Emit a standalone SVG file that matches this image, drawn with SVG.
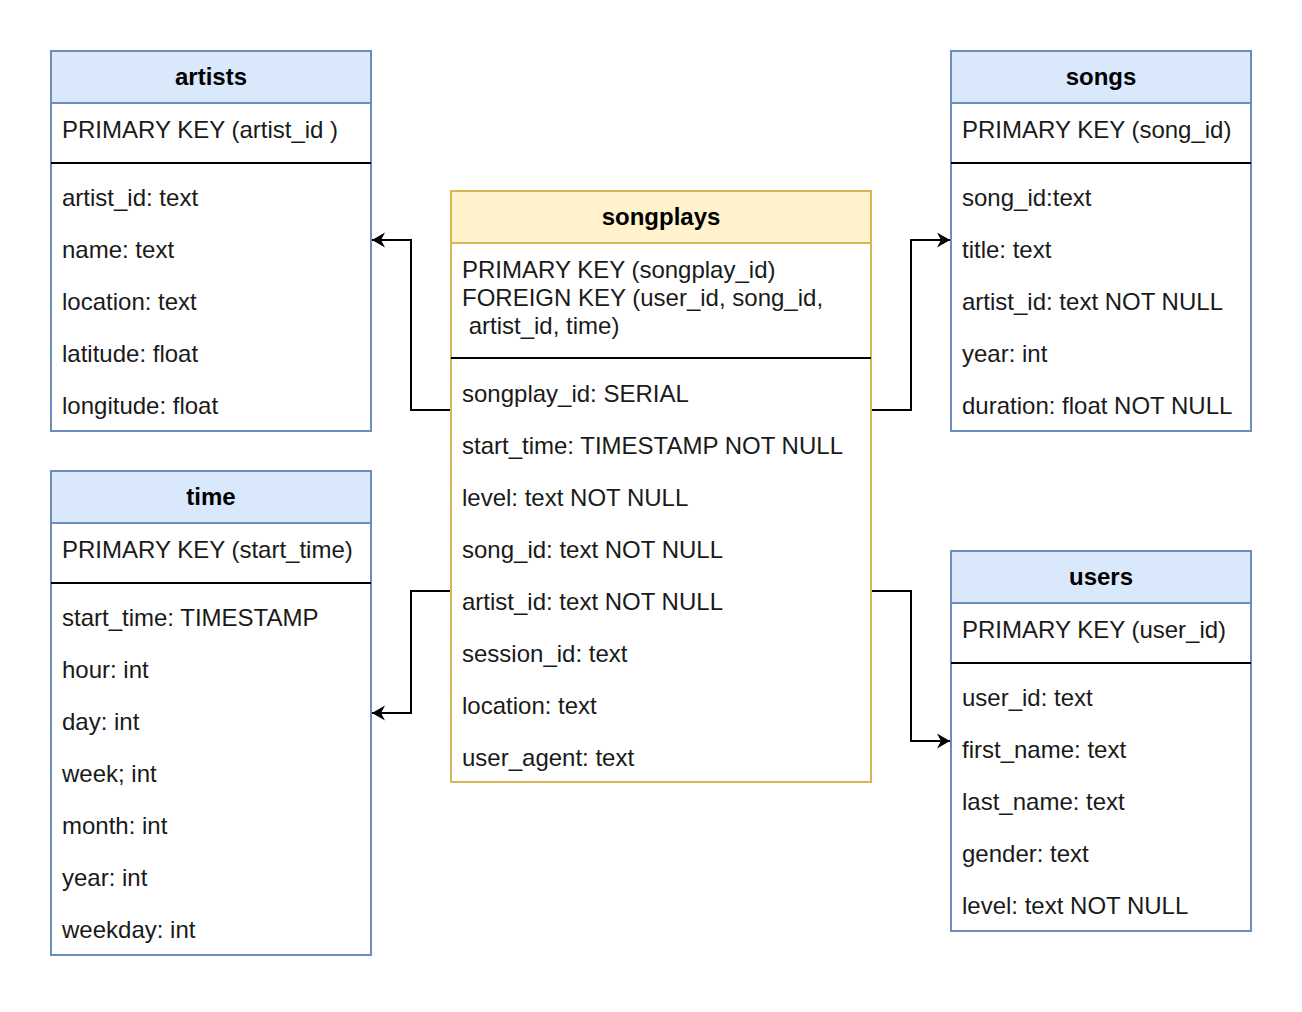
<svg xmlns="http://www.w3.org/2000/svg" width="1302" height="1012" viewBox="0 0 1302 1012">
<style>
.box{fill:#ffffff;stroke:#6c8ebf;stroke-width:2}
.hb{fill:#dae8fc;stroke:#6c8ebf;stroke-width:2}
.boxy{fill:#ffffff;stroke:#d6b656;stroke-width:2}
.hy{fill:#fff2cc;stroke:#d6b656;stroke-width:2}
.div{stroke:#000000;stroke-width:2}
.t{font-family:"Liberation Sans",Arial,sans-serif;font-size:24px;fill:#1a1a1a}
.h{font-family:"Liberation Sans",Arial,sans-serif;font-size:24px;font-weight:bold;fill:#000000;text-anchor:middle}
.c{fill:none;stroke:#000000;stroke-width:2}
</style>
<defs>
<marker id="arr" markerUnits="userSpaceOnUse" markerWidth="16" markerHeight="16" refX="13" refY="7.5" orient="auto">
<path d="M0,0 L13,7.5 L0,15 L4,7.5 Z" fill="#000000"/>
</marker>
</defs>
<rect width="1302" height="1012" fill="#ffffff"/>
<g id="connectors">
<path class="c" d="M451,410 H411 V240 H372" marker-end="url(#arr)"/>
<path class="c" d="M871,410 H911 V240 H950" marker-end="url(#arr)"/>
<path class="c" d="M451,591 H411 V713 H372" marker-end="url(#arr)"/>
<path class="c" d="M871,591 H911 V741 H950" marker-end="url(#arr)"/>
</g>
<g id="artists">
<rect class="box" x="51" y="51" width="320" height="380"/>
<rect class="hb" x="51" y="51" width="320" height="52"/>
<text class="h" x="211" y="85">artists</text>
<text class="t" x="62" y="138">PRIMARY KEY (artist_id )</text>
<line class="div" x1="51" y1="163" x2="371" y2="163"/>
<text class="t" x="62" y="206">artist_id: text</text>
<text class="t" x="62" y="258">name: text</text>
<text class="t" x="62" y="310">location: text</text>
<text class="t" x="62" y="362">latitude: float</text>
<text class="t" x="62" y="414">longitude: float</text>
</g>
<g id="songs">
<rect class="box" x="951" y="51" width="300" height="380"/>
<rect class="hb" x="951" y="51" width="300" height="52"/>
<text class="h" x="1101" y="85">songs</text>
<text class="t" x="962" y="138">PRIMARY KEY (song_id)</text>
<line class="div" x1="951" y1="163" x2="1251" y2="163"/>
<text class="t" x="962" y="206">song_id:text</text>
<text class="t" x="962" y="258">title: text</text>
<text class="t" x="962" y="310">artist_id: text NOT NULL</text>
<text class="t" x="962" y="362">year: int</text>
<text class="t" x="962" y="414">duration: float NOT NULL</text>
</g>
<g id="songplays">
<rect class="boxy" x="451" y="191" width="420" height="591"/>
<rect class="hy" x="451" y="191" width="420" height="52"/>
<text class="h" x="661" y="225">songplays</text>
<text class="t" x="462" y="278">PRIMARY KEY (songplay_id)</text>
<text class="t" x="462" y="306">FOREIGN KEY (user_id, song_id,</text>
<text class="t" x="462" y="334" xml:space="preserve"> artist_id, time)</text>
<line class="div" x1="451" y1="358" x2="871" y2="358"/>
<text class="t" x="462" y="402">songplay_id: SERIAL</text>
<text class="t" x="462" y="454">start_time: TIMESTAMP NOT NULL</text>
<text class="t" x="462" y="506">level: text NOT NULL</text>
<text class="t" x="462" y="558">song_id: text NOT NULL</text>
<text class="t" x="462" y="610">artist_id: text NOT NULL</text>
<text class="t" x="462" y="662">session_id: text</text>
<text class="t" x="462" y="714">location: text</text>
<text class="t" x="462" y="766">user_agent: text</text>
</g>
<g id="time">
<rect class="box" x="51" y="471" width="320" height="484"/>
<rect class="hb" x="51" y="471" width="320" height="52"/>
<text class="h" x="211" y="505">time</text>
<text class="t" x="62" y="558">PRIMARY KEY (start_time)</text>
<line class="div" x1="51" y1="583" x2="371" y2="583"/>
<text class="t" x="62" y="626">start_time: TIMESTAMP</text>
<text class="t" x="62" y="678">hour: int</text>
<text class="t" x="62" y="730">day: int</text>
<text class="t" x="62" y="782">week; int</text>
<text class="t" x="62" y="834">month: int</text>
<text class="t" x="62" y="886">year: int</text>
<text class="t" x="62" y="938">weekday: int</text>
</g>
<g id="users">
<rect class="box" x="951" y="551" width="300" height="380"/>
<rect class="hb" x="951" y="551" width="300" height="52"/>
<text class="h" x="1101" y="585">users</text>
<text class="t" x="962" y="638">PRIMARY KEY (user_id)</text>
<line class="div" x1="951" y1="663" x2="1251" y2="663"/>
<text class="t" x="962" y="706">user_id: text</text>
<text class="t" x="962" y="758">first_name: text</text>
<text class="t" x="962" y="810">last_name: text</text>
<text class="t" x="962" y="862">gender: text</text>
<text class="t" x="962" y="914">level: text NOT NULL</text>
</g>
</svg>
